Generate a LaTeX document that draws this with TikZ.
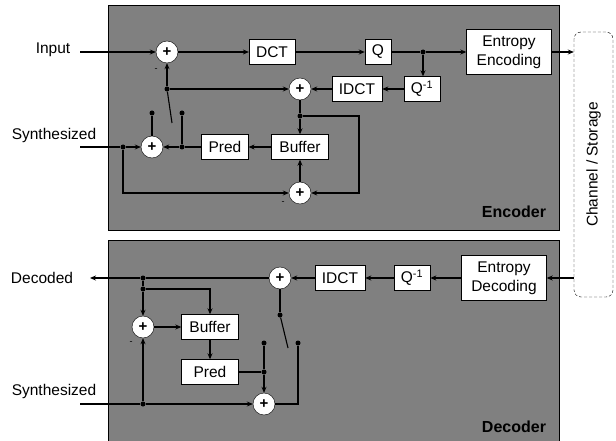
\documentclass[tikz,border=0pt]{standalone}
\usepackage{fontspec}
\setmainfont{Liberation Sans}
\usetikzlibrary{arrows.meta, positioning, calc}
\tikzset{
  panel/.style={draw=black, fill=black!50},
  blk/.style={rectangle, draw=black, fill=white, minimum height=25pt, inner xsep=7pt, align=center},
  ent/.style={blk, minimum width=85pt, minimum height=45pt},
  sum/.style={circle, draw=black, fill=white, minimum size=22pt, inner sep=0pt, font=\bfseries\fontsize{15}{15}\selectfont},
  jdot/.style={circle, fill=black, inner sep=0pt, minimum size=5pt},
  wire/.style={line width=1.1pt},
  arrow/.style={wire, -{Stealth[length=6pt, width=5pt]}},
  sign/.style={font=\fontsize{9}{9}\selectfont, inner sep=0pt},
  tag/.style={font=\bfseries\fontsize{16}{16}\selectfont},
  chanbox/.style={draw=black, densely dashed, rounded corners=7pt, minimum width=265pt, minimum height=39pt, rotate=90},
}
\begin{document}
\begin{tikzpicture}[x=1pt, y=-1pt, font=\fontsize{15.5}{19}\selectfont]
\useasboundingbox (0,0) rectangle (616,441);
\draw[panel] (108,5) rectangle (559,230);
\draw[panel] (108,240) rectangle (559,443);
\node[chanbox] (chan) at (593.5,164.5) {Channel / Storage};
% encoder
\node (inlbl) at (53,50) {Input};
\coordinate (in) at (80,52);
\node[sum] (a1) at (167,52) {+};
\node[blk] (dct) at (272,52) {DCT};
\node[blk] (q) at (378,52) {Q};
\node[jdot] (jq) at (423,52) {};
\node[ent] (enc) at (509,52) {Entropy\\Encoding};
\node[blk] (iq) at (422,89) {Q\textsuperscript{-1}};
\node[blk] (idct) at (357,89) {IDCT};
\node[sum] (a2) at (300,89) {+};
\node[jdot] (piv) at (167,89) {};
\coordinate (blade) at (172,123);
\node[jdot] (c1) at (152,113) {};
\node[jdot] (c2) at (182,113) {};
\node[jdot] (j3) at (300,116) {};
\coordinate (loop) at (359,116);
\node[blk, minimum width=57pt] (buf) at (300,147) {Buffer};
\node[blk, minimum width=46pt] (pred) at (225,147) {Pred};
\node[jdot] (jp) at (182,147) {};
\node[sum] (a4) at (152,147) {+};
\node[jdot] (js) at (123,147) {};
\node (synlbl) at (54,135) {Synthesized};
\coordinate (syn) at (80,147);
\node[sum] (a3) at (300,193) {+};
\node[sign] (m1) at (156,70) {-};
\node[sign] (m2) at (283,203) {-};
\node[tag] (enctag) at (514,212) {Encoder};
\draw[arrow] (in) -- (a1);
\draw[arrow] (a1) -- (dct);
\draw[arrow] (dct) -- (q);
\draw[arrow] (q) -- (jq) -- (enc);
\draw[arrow] (enc) -- (enc -| chan.north);
\draw[arrow] (jq) -- (jq |- iq.north);
\draw[arrow] (iq) -- (idct);
\draw[arrow] (idct) -- (a2);
\draw[arrow] (piv) -- (a1);
\draw[arrow] (piv) -- (a2);
\draw[wire] (piv) -- (blade);
\draw[wire] (a2) -- (j3);
\draw[arrow] (j3) -- (buf);
\draw[arrow] (j3) -- (loop) |- (a3);
\draw[arrow] (buf) -- (pred);
\draw[wire] (pred) -- (jp);
\draw[arrow] (jp) -- (a4);
\draw[wire] (jp) -- (c2);
\draw[wire] (a4) -- (c1);
\draw[wire] (syn) -- (js);
\draw[arrow] (js) -- (a4);
\draw[arrow] (js) |- (a3);
\draw[arrow] (a3) -- (buf);
% decoder
\node (declbl) at (42,278) {Decoded};
\coordinate (out) at (90,278);
\node[sum] (da1) at (280,278) {+};
\node[blk] (didct) at (340,278) {IDCT};
\node[blk] (diq) at (412,278) {Q\textsuperscript{-1}};
\node[ent] (dec) at (504,278) {Entropy\\Decoding};
\node[jdot] (jd1) at (143,278) {};
\node[jdot] (jd2) at (143,289) {};
\node[sum] (da2) at (143,327) {+};
\node[blk, minimum width=57pt] (dbuf) at (210,327) {Buffer};
\node[blk, minimum width=57pt] (dpred) at (210,372) {Pred};
\node[jdot] (jdp) at (264,372) {};
\node[jdot] (dc1) at (264,343) {};
\node[jdot] (dc2) at (298,343) {};
\node[jdot] (dpiv) at (280,315) {};
\coordinate (dblade) at (288,348);
\node[sum] (da3) at (264,404) {+};
\node[jdot] (jds) at (143,404) {};
\node (dsynlbl) at (54,391) {Synthesized};
\coordinate (dsyn) at (80,404);
\node[sign] (m3) at (131,343) {-};
\node[tag] (dectag) at (514,427) {Decoder};
\draw[arrow] (chan.north |- dec) -- (dec);
\draw[arrow] (dec) -- (diq);
\draw[arrow] (diq) -- (didct);
\draw[arrow] (didct) -- (da1);
\draw[wire] (da1) -- (jd1);
\draw[arrow] (jd1) -- (out);
\draw[wire] (jd1) -- (jd2);
\draw[arrow] (jd2) -- (da2);
\draw[arrow] (jd2) -| (dbuf);
\draw[arrow] (da2) -- (dbuf);
\draw[arrow] (dbuf) -- (dpred);
\draw[wire] (dpred) -- (jdp);
\draw[wire] (jdp) -- (dc1);
\draw[arrow] (jdp) -- (da3);
\draw[wire] (da1) -- (dpiv);
\draw[wire] (dpiv) -- (dblade);
\draw[wire] (dsyn) -- (jds);
\draw[arrow] (jds) -- (da3);
\draw[arrow] (jds) -- (da2);
\draw[wire] (da3) -| (dc2);
\end{tikzpicture}
\end{document}
